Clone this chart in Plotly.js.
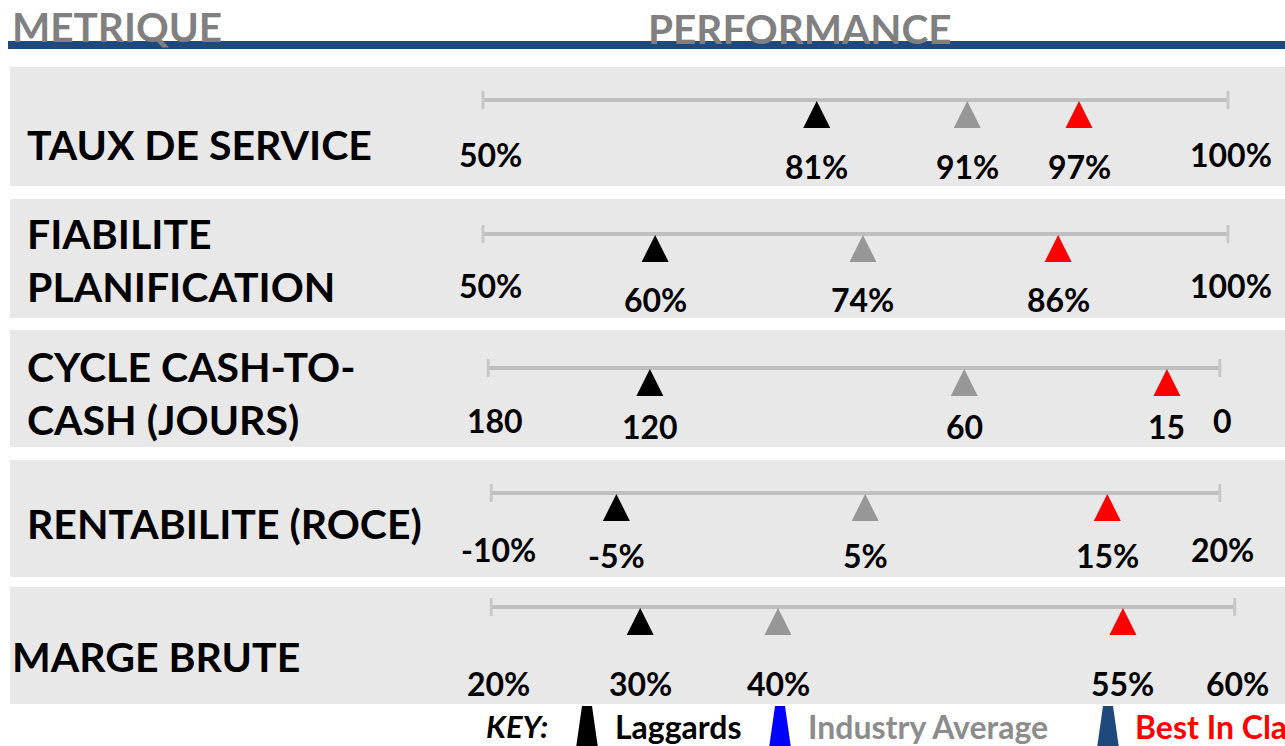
<!DOCTYPE html>
<html><head><meta charset="utf-8">
<script src="https://cdn.plot.ly/plotly-3.0.1.min.js"></script>
<style>html,body{margin:0;padding:0;background:#fff;overflow:hidden}</style>
</head><body><div id="chart" style="width:1285px;height:746px"></div>
<script>
// ---------------- DATA ----------------
const metrics = ["TAUX DE SERVICE", "FIABILITE<br>PLANIFICATION", "CYCLE CASH-TO-<br>CASH (JOURS)", "RENTABILITE (ROCE)", "MARGE BRUTE"];
const scaleMinLabels = ["50%", "50%", "180", "-10%", "20%"];
const scaleMaxLabels = ["100%", "100%", "0", "20%", "60%"];
const laggardLabels = ["81%", "60%", "120", "-5%", "30%"];
const averageLabels = ["91%", "74%", "60", "5%", "40%"];
const bestLabels = ["97%", "86%", "15", "15%", "55%"];
// where each marker sits along its track, in % of the track (0 = left end, 100 = right end)
const laggardPos = [44.8, 23.1, 22.4, 17.9, 21.1];
const averagePos = [65.0, 51.0, 64.6, 51.3, 39.6];
const bestPos = [80.0, 77.2, 91.8, 83.8, 85.9];
const trackStart = [0, 0, 0.7, 1.1, 1.1];
const trackEnd = [100, 100, 98.9, 98.9, 100.9];
const seriesNames = ["Laggards", "Industry Average", "Best In Class"];
const headerLeft = "METRIQUE";
const headerRight = "PERFORMANCE";
const keyTitle = "KEY:";

// ---------------- LAYOUT CONFIG (positions / styles) ----------------
const W = 1285, H = 746;
const PX0 = 483, PX1 = 1228;
const ppu = (PX1 - PX0) / 100;
const xRange = [-PX0 / ppu, (W - PX0) / ppu];
const bandTop = [67, 199, 330, 460, 587];
const bandBottom = [186, 318, 447, 577, 704];
const trackY = [100, 234, 368, 493, 607];
const labelY = [144, 260, 393, 523, 656];
const labelX = [25, 25, 25, 25, 10];
const endLabelDy = [54, 51, 52, 56, 76];
const valueLabelDy = [66, 65, 58, 62, 76];
const markerColors = ["#000000", "#979797", "#FF0000"];
const keyShapeColors = ["#000000", "#0000FF", "#1F497D"];
const keyTextColors = ["#000000", "#8C8C8C", "#FF0000"];
const FONT = "Lato, 'Open Sans', sans-serif";
const px = v => v / W;

const posSeries = [laggardPos, averagePos, bestPos];
const labelSeries = [laggardLabels, averageLabels, bestLabels];

// traces: triangle markers
const traces = posSeries.map((pos, s) => ({
  type: "scatter", mode: "markers", name: seriesNames[s],
  x: pos, y: trackY.map(v => v + 1),
  text: labelSeries[s], hovertemplate: "%{text}<extra>" + seriesNames[s] + "</extra>",
  cliponaxis: false,
  marker: { symbol: "arrow-up", size: 27, color: markerColors[s], line: { width: 0 } }
}));

const shapes = [];
// row bands
metrics.forEach((m, i) => {
  shapes.push({ type: "rect", layer: "below", xref: "paper", yref: "y", x0: px(10), x1: 1,
    y0: bandTop[i], y1: bandBottom[i], fillcolor: "#E8E8E8", line: { width: 0 } });
  shapes.push({ type: "line", layer: "below", xref: "x", yref: "y", x0: trackStart[i], x1: trackEnd[i],
    y0: trackY[i], y1: trackY[i], line: { color: "#BFBFBF", width: 4 } });
  [trackStart[i], trackEnd[i]].forEach(xv => shapes.push({ type: "line", layer: "below", xref: "x", yref: "y",
    x0: xv, x1: xv, y0: trackY[i] - 9, y1: trackY[i] + 9, line: { color: "#C8C8C8", width: 3 } }));
});
// header rule
shapes.push({ type: "rect", layer: "above", xref: "paper", yref: "y", x0: px(8), x1: 1, y0: 41, y1: 49,
  fillcolor: "#1F497D", line: { width: 0 } });
// key glyphs
const keyGlyphX = [587, 780, 1108];
keyGlyphX.forEach((cx, k) => {
  shapes.push({ type: "path", layer: "above", xref: "paper", yref: "y",
    path: `M${px(cx - 5)},706 L${px(cx + 5)},706 L${px(cx + 11)},748 L${px(cx - 11)},748 Z`,
    fillcolor: keyShapeColors[k], line: { width: 0 } });
});

const annotations = [];
const ann = (o) => annotations.push(Object.assign({ showarrow: false, font: { family: FONT, size: 32, color: "#000", weight: "bold" } }, o));
// headers
ann({ text: headerLeft, xref: "paper", yref: "y", x: px(10), y: 26, xanchor: "left", yanchor: "middle",
  font: { family: FONT, size: 40.5, color: "#808080", weight: "bold" } });
ann({ text: headerRight, xref: "paper", yref: "y", x: px(646), y: 28, xanchor: "left", yanchor: "middle",
  font: { family: FONT, size: 40.5, color: "#808080", weight: "bold" } });
// row labels
metrics.forEach((m, i) => {
  ann({ text: m, xref: "paper", yref: "y", x: px(labelX[i]), y: labelY[i], xanchor: "left", yanchor: "middle", align: "left",
    font: { family: FONT, size: 41, color: "#000", weight: "bold" } });
  ann({ text: scaleMinLabels[i], xref: "x", yref: "y", x: trackStart[i], xshift: 7, y: trackY[i] + endLabelDy[i], xanchor: "center", yanchor: "middle" });
  ann({ text: scaleMaxLabels[i], xref: "x", yref: "y", x: trackEnd[i], xshift: 3, y: trackY[i] + endLabelDy[i], xanchor: "center", yanchor: "middle" });
  posSeries.forEach((pos, s) => {
    ann({ text: labelSeries[s][i], xref: "x", yref: "y", x: pos[i], y: trackY[i] + valueLabelDy[i], xanchor: "center", yanchor: "middle" });
  });
});
// key
ann({ text: "<i>" + keyTitle + "</i>", xref: "paper", yref: "y", x: px(517), y: 726, xanchor: "center", yanchor: "middle",
  font: { family: FONT, size: 31, color: "#000", weight: "bold" } });
const keyTextX = [613, 806, 1133];
seriesNames.forEach((n, k) => ann({ text: n, xref: "paper", yref: "y", x: px(keyTextX[k]), y: 726, xanchor: "left", yanchor: "middle",
  font: { family: FONT, size: 32, color: keyTextColors[k], weight: "bold" } }));

const layout = {
  width: W, height: H, margin: { l: 0, r: 0, t: 0, b: 0 },
  paper_bgcolor: "#FFFFFF", plot_bgcolor: "#FFFFFF", showlegend: false,
  xaxis: { range: xRange, visible: false, fixedrange: true },
  yaxis: { range: [H, 0], visible: false, fixedrange: true },
  shapes, annotations, hovermode: "closest"
};
Plotly.newPlot("chart", traces, layout, { displayModeBar: false, staticPlot: false });
</script></body></html>
